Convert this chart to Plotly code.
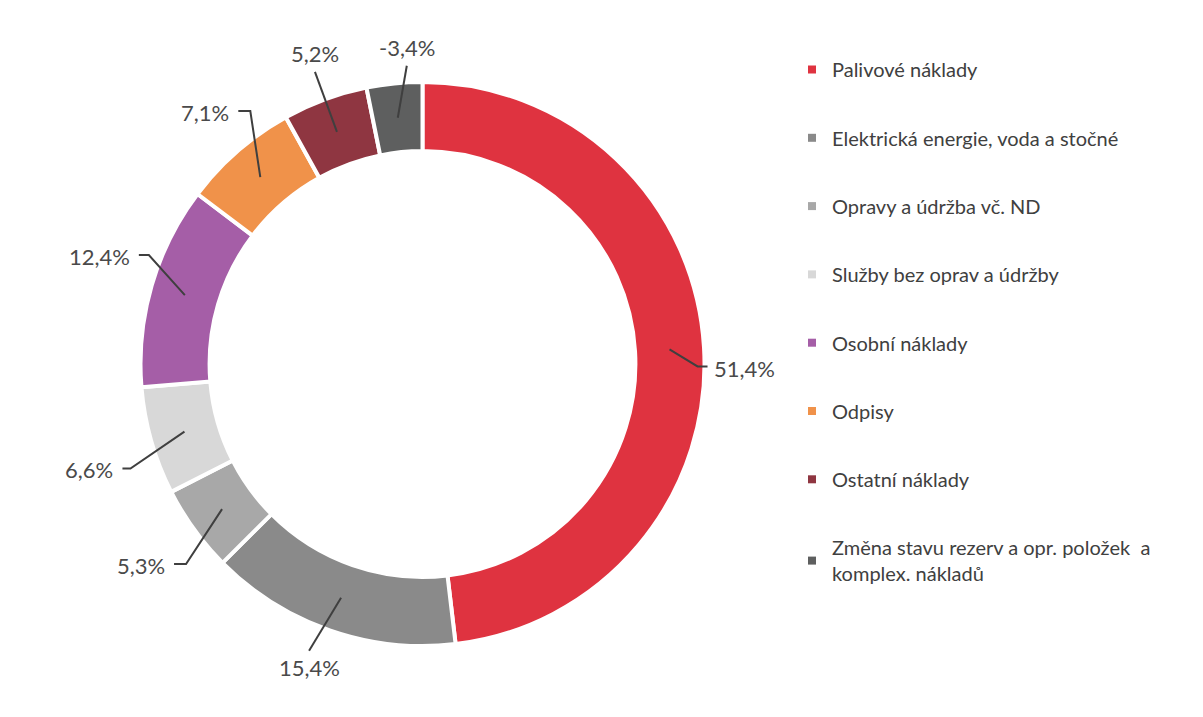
import math
import plotly.graph_objects as go

# ---------------- data ----------------
categories = [
    "Palivové náklady",
    "Elektrická energie, voda a stočné",
    "Opravy a údržba vč. ND",
    "Služby bez oprav a údržby",
    "Osobní náklady",
    "Odpisy",
    "Ostatní náklady",
    "Změna stavu rezerv a opr. položek  a<br>komplex. nákladů",
]
shares = [51.4, 15.4, 5.3, 6.6, 12.4, 7.1, 5.2, -3.4]
label_texts = ["51,4%", "15,4%", "5,3%", "6,6%", "12,4%", "7,1%", "5,2%", "-3,4%"]

colors = ["#DF3340", "#8A8A8A", "#A8A8A8", "#D8D8D8",
          "#A55EA7", "#F0924A", "#8F3641", "#5E5F5F"]

# ---------------- geometry ----------------
W, H = 1203, 717
OFF = 8                    # page body margin offset
CX, CY = 422.5, 364.0      # donut centre (px, screen)
R_OUT = 282.0
HOLE = 0.755
R_MID = R_OUT * (1 + HOLE) / 2

def px(x):
    return (x - OFF) / W

def py(y):
    return 1 - (y - OFF) / H

sizes = [abs(v) for v in shares]
total = sum(sizes)

fig = go.Figure()
fig.add_trace(go.Pie(
    labels=[c.replace("<br>", " ") for c in categories],
    values=sizes,
    sort=False,
    direction="clockwise",
    hole=HOLE,
    textinfo="none",
    showlegend=False,
    marker=dict(colors=colors, line=dict(color="white", width=4)),
    domain=dict(x=[px(CX - R_OUT), px(CX + R_OUT)],
                y=[py(CY + R_OUT), py(CY - R_OUT)]),
))

# legend via dummy traces (one group per item for spacing)
for name, col in zip(categories, colors):
    fig.add_trace(go.Scatter(
        x=[None], y=[None], mode="markers", name=name,
        legendgroup=name,
        marker=dict(symbol="square", size=8, color=col),
    ))

# leader lines + labels (elbow offsets relative to slice anchor, px)
label_layout = [
    dict(elbow=(28, 17), h=10, side="right"),
    dict(elbow=(-32, 53), h=0, side="below"),
    dict(elbow=(-36, 55), h=-12, side="left"),
    dict(elbow=(-54, 37), h=-8, side="left"),
    dict(elbow=(-36, -40), h=-10, side="left"),
    dict(elbow=(-10, -66), h=-12, side="left"),
    dict(elbow=(-22, -60), h=0, side="above"),
    dict(elbow=(9, -52), h=0, side="above"),
]

shapes = []
annotations = []
cum = 0.0
for val, txt, lay in zip(sizes, label_texts, label_layout):
    mid = (cum + val / 2) / total * 2 * math.pi
    cum += val
    ax = CX + R_MID * math.sin(mid)
    ay = CY - R_MID * math.cos(mid)
    ex, ey = ax + lay["elbow"][0], ay + lay["elbow"][1]
    hx = ex + lay["h"]
    shapes.append(dict(
        type="path", xref="paper", yref="paper",
        path=f"M {px(ax)},{py(ay)} L {px(ex)},{py(ey)} L {px(hx)},{py(ey)}",
        line=dict(color="#3F3F3F", width=2),
    ))
    side = lay["side"]
    if side == "right":
        tx, ty, xa, ya = hx + 4, ey + 2, "left", "middle"
    elif side == "left":
        tx, ty, xa, ya = hx - 7, ey + 1, "right", "middle"
    elif side == "below":
        tx, ty, xa, ya = ex, ey + 1, "center", "top"
    else:
        tx, ty, xa, ya = ex, ey - 3, "center", "bottom"
    annotations.append(dict(
        x=px(tx), y=py(ty), xref="paper", yref="paper",
        text=txt, showarrow=False, xanchor=xa, yanchor=ya,
        font=dict(family="Lato", size=22, color="#4A4A4A"),
    ))

fig.update_layout(
    width=W, height=H,
    margin=dict(l=0, r=0, t=0, b=0),
    paper_bgcolor="white",
    plot_bgcolor="white",
    xaxis=dict(visible=False),
    yaxis=dict(visible=False),
    shapes=shapes,
    annotations=annotations,
    showlegend=True,
    legend=dict(
        x=px(792), y=py(50), xanchor="left", yanchor="top",
        font=dict(family="Lato", size=20, color="#404040"),
        tracegroupgap=39.3,
        itemclick=False, itemdoubleclick=False,
        bgcolor="rgba(0,0,0,0)",
    ),
    font=dict(family="Lato"),
)

fig.write_html("out.html")
